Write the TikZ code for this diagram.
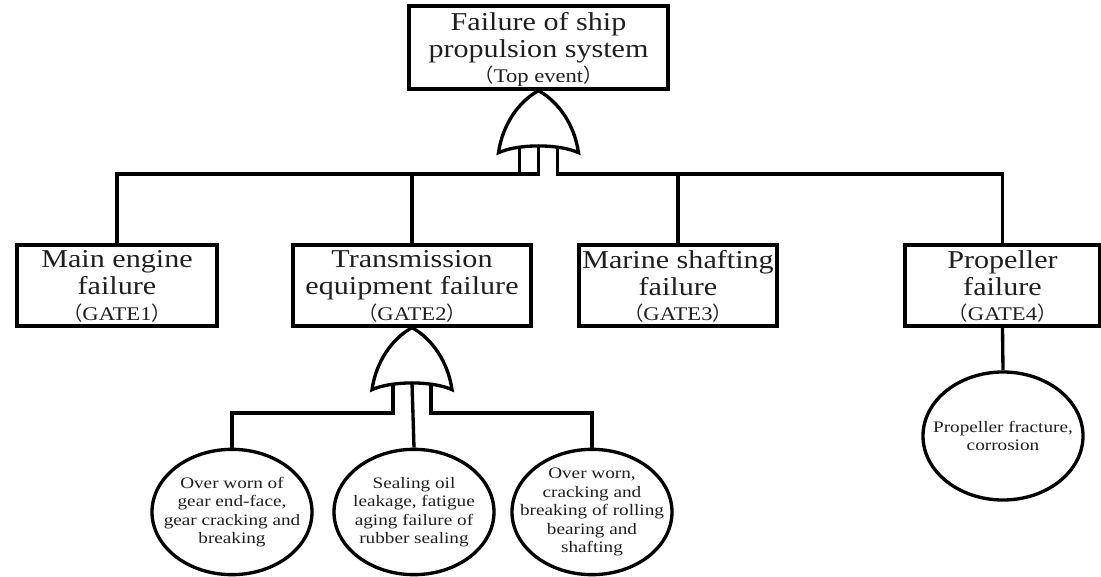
\documentclass[tikz,border=0pt]{standalone}
\usepackage{fontspec}
\setmainfont{Liberation Serif}
\newfontfamily\boxfont{Liberation Serif}[FakeStretch=1.17]
\newfontfamily\ellfont{Liberation Serif}[FakeStretch=1.2]
\newfontfamily\cjk{Noto Sans CJK SC}
\usetikzlibrary{shapes.geometric}
\newcommand{\gateline}[1]{{\fontsize{14.5pt}{16pt}\selectfont\smash{{\cjk （}#1{\cjk ）}}}}
\tikzset{
  x=0.75pt, y=-0.75pt,
  ln/.style={line width=2.5pt, line join=miter},
  evbox/.style={draw, ln, rectangle, inner sep=0pt, align=center, text=black!88,
    font=\boxfont\fontsize{19.3pt}{20.25pt}\selectfont},
  basic/.style={draw, ln, ellipse, inner sep=0pt, minimum width=120pt, minimum height=94pt},
  basictext/.style={align=center, text=black!88, font=\ellfont\fontsize{12pt}{13.9pt}\selectfont},
  orgate/.pic={
    \draw[ln] (-40,62) .. controls (-36,34) and (-20,11) .. (0,0)
              .. controls (20,11) and (36,34) .. (40,62)
              .. controls (20,53) and (-20,53) .. cycle;
    \coordinate (-l) at (-19,56.5);
    \coordinate (-m) at (0,55.2);
    \coordinate (-r) at (19,56.5);
  }
}
\begin{document}
\begin{tikzpicture}
\useasboundingbox (0,0) rectangle (1101,577);
% boxes
\node[evbox, minimum width=194.25pt, minimum height=62.25pt] (top) at (538.5,47.5)
  {Failure of ship\\propulsion system\\[-1pt]\gateline{Top event}};
\node[evbox, minimum width=150pt, minimum height=60.75pt] (me) at (117,285.5)
  {Main engine\\failure\\[-1pt]\gateline{GATE1}};
\node[evbox, minimum width=178.5pt, minimum height=60.75pt] (te) at (412,285.5)
  {Transmission\\equipment failure\\[-1pt]\gateline{GATE2}};
\node[evbox, minimum width=148.5pt, minimum height=60.75pt] (ms) at (678,285.5)
  {Marine shafting\\failure\\[-1pt]\gateline{GATE3}};
\node[evbox, minimum width=146.25pt, minimum height=60.75pt] (pf) at (1002.5,285.5)
  {Propeller\\failure\\[-1pt]\gateline{GATE4}};
% gates
\pic (g1) at (top.south) {orgate};
\pic (g2) at (te.south) {orgate};
% basic events
\node[basic, label={[basictext]center:Over worn of\\gear end-face,\\gear cracking and\\breaking}] (e1) at (232,512) {};
\node[basic, label={[basictext]center:Sealing oil\\leakage, fatigue\\aging failure of\\rubber sealing}] (e2) at (414,512) {};
\node[basic, label={[basictext]center:Over worn,\\cracking and\\breaking of rolling\\bearing and\\shafting}] (e3) at (592,512) {};
\node[basic, minimum height=96pt, label={[basictext]center:Propeller fracture,\\corrosion}] (e4) at (1003,436) {};
% connectors
\coordinate (bar1) at (0,174);
\coordinate (bar2) at (0,413);
\draw[ln] (g1-l) -- (g1-l |- bar1) -| (me.north);
\draw[ln] (g1-m) -- (g1-m |- bar1) -| (te.north);
\draw[ln] (g1-r) -- (g1-r |- bar1) -| (ms.north);
\draw[ln] (g1-r |- bar1) -| (pf.north);
\draw[ln] (g2-l) -- (g2-l |- bar2) -| (e1.north);
\draw[ln] (g2-m) -- (e2.north);
\draw[ln] (g2-r) -- (g2-r |- bar2) -| (e3.north);
\draw[ln] (pf.south) -- (e4.north);
\end{tikzpicture}
\end{document}
